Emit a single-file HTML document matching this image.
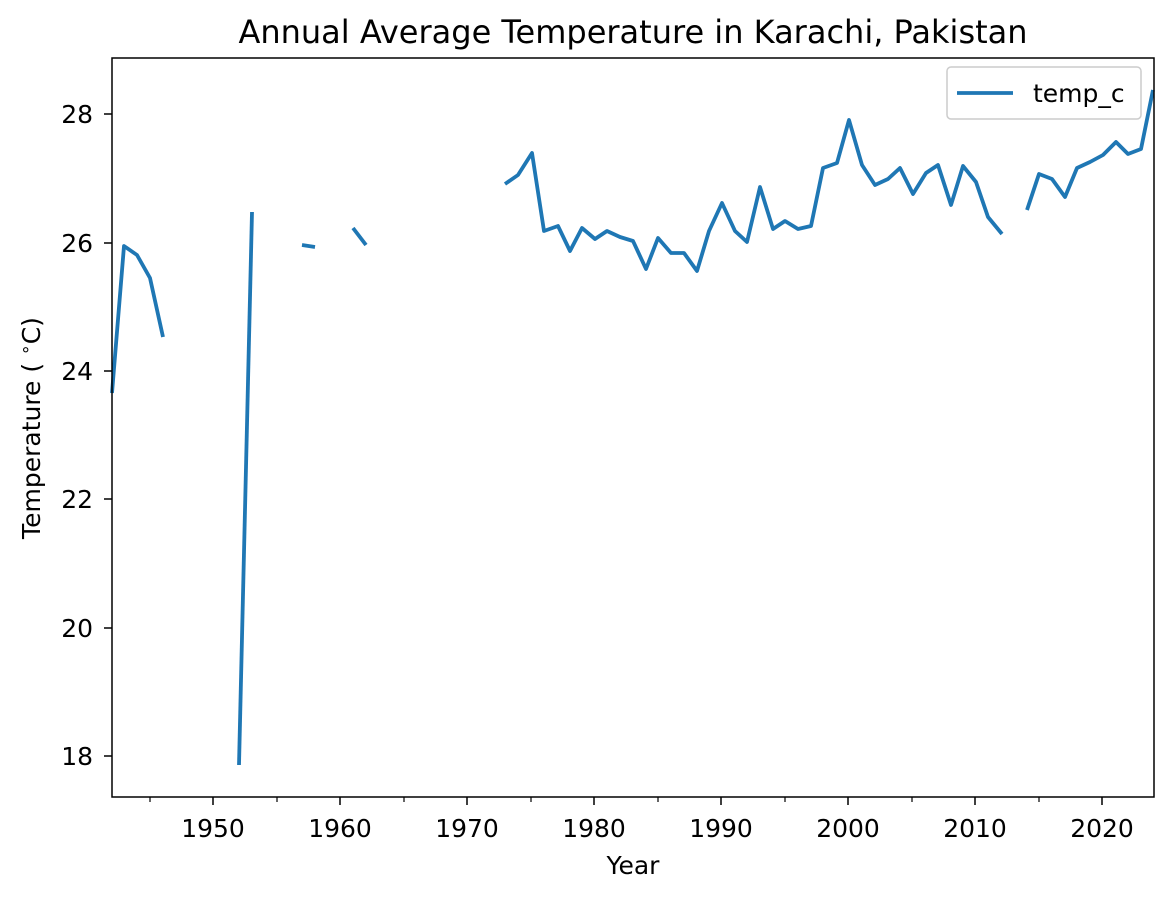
<!DOCTYPE html>
<html><head><style>body{margin:0;background:#fff}svg{display:block}text{font-family:"DejaVu Sans","Liberation Sans",sans-serif;fill:#000}</style></head><body>
<svg width="1173" height="898" viewBox="0 0 1173 898">
<g fill="none" stroke="#1f77b4" stroke-width="3.8" stroke-linejoin="round">
<polyline points="112,393 124,246 137,255 150,278 163,337"/>
<polyline points="239,765 252,212"/>
<polyline points="302,245 315,247"/>
<polyline points="353,228 366,245"/>
<polyline points="505,184 518,175 532,153 544,231 558,226 570,251 582,228 595,239 607,231 620,237 633,241 646,269 658,238 671,253 684,253 697,271 709,231 722,203 735,231 747,242 760,187 773,229 785,221 798,229 811,226 823,168 837,163 849,120 862,165 875,185 888,179 900,168 913,194 926,173 938,165 951,205 963,166 976,182 988,217 1002,234"/>
<polyline points="1027,210 1039,174 1052,179 1065,197 1077,168 1090,162 1103,155 1116,142 1128,154 1141,149 1153,90"/>
</g>
<rect x="112" y="58" width="1042" height="739" fill="none" stroke="#000" stroke-width="1.5"/>
<g stroke="#000" stroke-width="1.5">
<line x1="213" y1="797" x2="213" y2="805"/><line x1="340" y1="797" x2="340" y2="805"/><line x1="467" y1="797" x2="467" y2="805"/><line x1="594" y1="797" x2="594" y2="805"/><line x1="721" y1="797" x2="721" y2="805"/><line x1="848" y1="797" x2="848" y2="805"/><line x1="975" y1="797" x2="975" y2="805"/><line x1="1102" y1="797" x2="1102" y2="805"/>
<line x1="104" y1="114" x2="112" y2="114"/><line x1="104" y1="243" x2="112" y2="243"/><line x1="104" y1="371" x2="112" y2="371"/><line x1="104" y1="499" x2="112" y2="499"/><line x1="104" y1="628" x2="112" y2="628"/><line x1="104" y1="756" x2="112" y2="756"/>
</g>
<g stroke="#000" stroke-width="1.2"><line x1="150" y1="797" x2="150" y2="802"/><line x1="277" y1="797" x2="277" y2="802"/><line x1="404" y1="797" x2="404" y2="802"/><line x1="531" y1="797" x2="531" y2="802"/><line x1="658" y1="797" x2="658" y2="802"/><line x1="785" y1="797" x2="785" y2="802"/><line x1="912" y1="797" x2="912" y2="802"/><line x1="1039" y1="797" x2="1039" y2="802"/></g>
<g font-size="25" text-anchor="middle">
<text x="213" y="837">1950</text><text x="340" y="837">1960</text><text x="467" y="837">1970</text><text x="594" y="837">1980</text><text x="721" y="837">1990</text><text x="848" y="837">2000</text><text x="975" y="837">2010</text><text x="1102" y="837">2020</text>
</g>
<g font-size="25" text-anchor="end">
<text x="93" y="123">28</text><text x="93" y="252">26</text><text x="93" y="380">24</text><text x="93" y="508">22</text><text x="93" y="637">20</text><text x="93" y="765">18</text>
</g>
<text x="633" y="874" font-size="25" text-anchor="middle">Year</text>
<text transform="translate(40,428) rotate(-90)" font-size="25" text-anchor="middle">Temperature ( <tspan font-size="17" dy="-9">∘</tspan><tspan dy="9">C)</tspan></text>
<text x="633" y="43" font-size="32" text-anchor="middle">Annual Average Temperature in Karachi, Pakistan</text>
<rect x="947" y="67" width="194" height="52" rx="4" fill="#fff" fill-opacity="0.8" stroke="#ccc" stroke-width="1.5"/>
<line x1="957" y1="93" x2="1013" y2="93" stroke="#1f77b4" stroke-width="3.8"/>
<text x="1033" y="102" font-size="25">temp_c</text>
</svg>
</body></html>
